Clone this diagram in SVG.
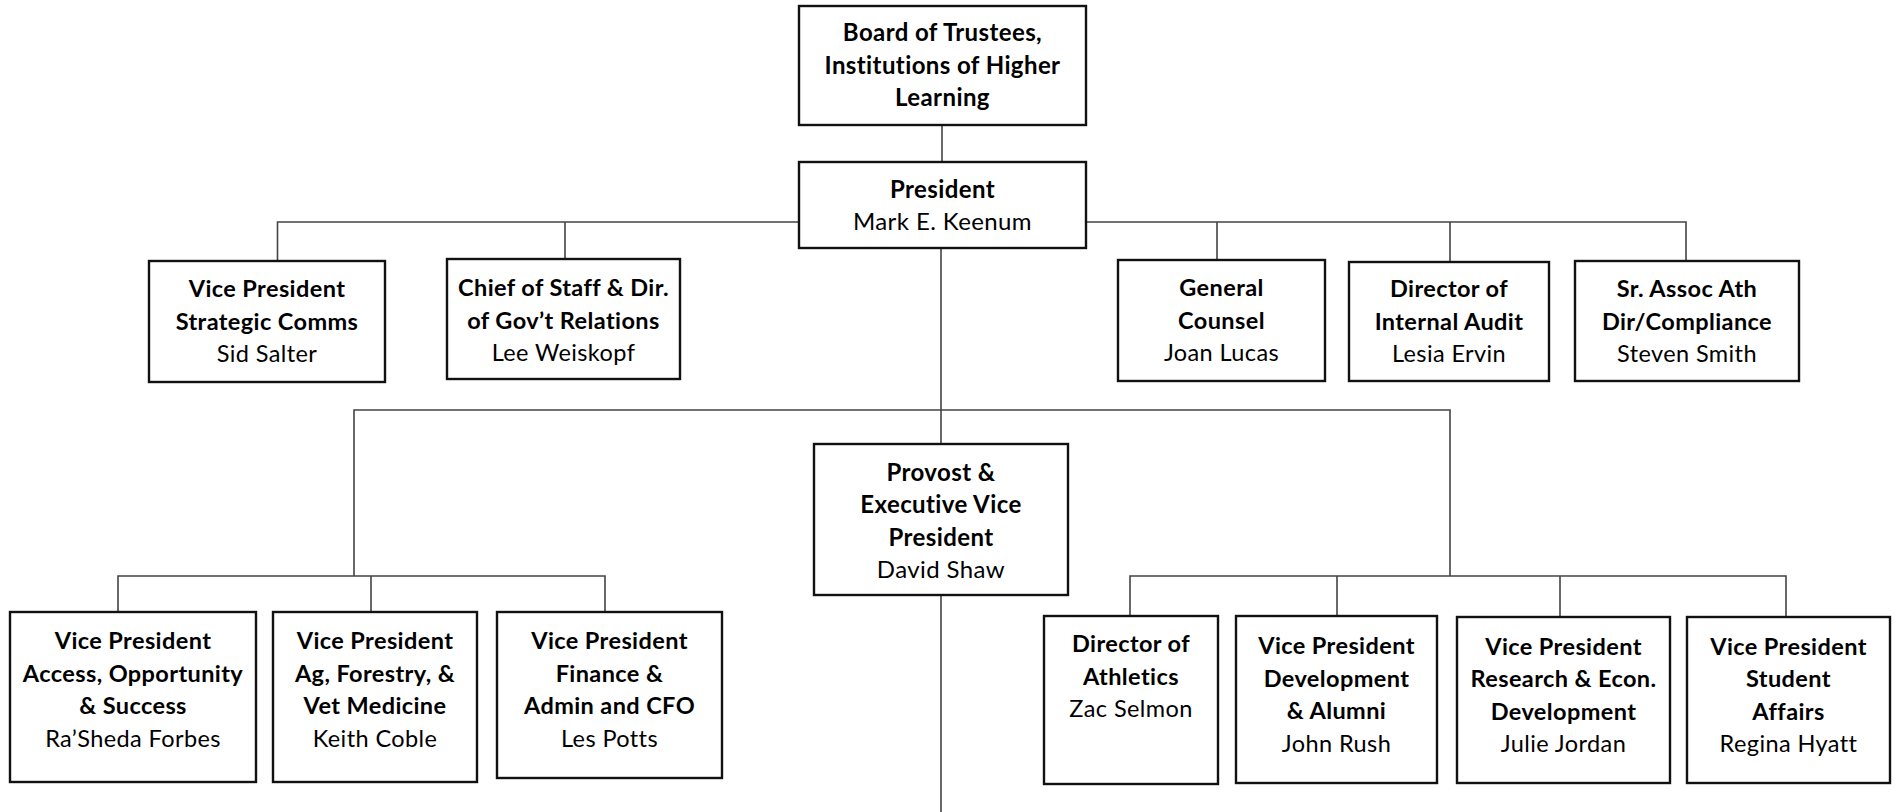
<svg xmlns="http://www.w3.org/2000/svg" width="1896" height="812" viewBox="0 0 1896 812">
<style>
.box{fill:#fff;stroke:#111;stroke-width:2.4}
.conn{fill:none;stroke:#444;stroke-width:1.6}
text{font-family:Lato,"Liberation Sans",sans-serif;font-size:23.5px;letter-spacing:0.4px;fill:#000;text-anchor:middle}
.b{font-weight:bold}
.big{font-size:24px}
</style>
<rect width="1896" height="812" fill="#fff"/>
<g id="connectors">
<path class="conn" d="M942 125V162"/>
<path class="conn" d="M799 222H277.5V261M565 222V259"/>
<path class="conn" d="M1086 222H1686V261M1217 222V260M1450 222V262"/>
<path class="conn" d="M941 248V444"/>
<path class="conn" d="M354 576V410H1450V576"/>
<path class="conn" d="M118 612V576H605V612M371 576V612"/>
<path class="conn" d="M1130 616V576H1786V617M1337 576V616M1560 576V617"/>
<path class="conn" d="M941 595V812"/>
</g>
<g id="board"><rect class="box" x="799" y="6" width="287" height="119"/>
<text class="b big" x="942.5" y="41">Board of Trustees,</text>
<text class="b big" x="942.5" y="73.5">Institutions of Higher</text>
<text class="b big" x="942.5" y="106">Learning</text></g>
<g id="president"><rect class="box" x="799" y="162" width="287" height="86"/>
<text class="b big" x="942.5" y="198">President</text>
<text class="big" x="942.5" y="230">Mark E. Keenum</text></g>
<g id="vp-comms"><rect class="box" x="149" y="261" width="236" height="121"/>
<text class="b" x="267" y="297">Vice President</text>
<text class="b" x="267" y="329.5">Strategic Comms</text>
<text x="267" y="362">Sid Salter</text></g>
<g id="chief-of-staff"><rect class="box" x="447" y="259" width="233" height="120"/>
<text class="b" x="563.5" y="296">Chief of Staff &amp; Dir.</text>
<text class="b" x="563.5" y="328.5">of Gov’t Relations</text>
<text x="563.5" y="361">Lee Weiskopf</text></g>
<g id="general-counsel"><rect class="box" x="1118" y="260" width="207" height="121"/>
<text class="b" x="1221.5" y="296">General</text>
<text class="b" x="1221.5" y="328.5">Counsel</text>
<text x="1221.5" y="361">Joan Lucas</text></g>
<g id="internal-audit"><rect class="box" x="1349" y="262" width="200" height="119"/>
<text class="b" x="1449" y="297">Director of</text>
<text class="b" x="1449" y="329.5">Internal Audit</text>
<text x="1449" y="362">Lesia Ervin</text></g>
<g id="compliance"><rect class="box" x="1575" y="261" width="224" height="120"/>
<text class="b" x="1687" y="297">Sr. Assoc Ath</text>
<text class="b" x="1687" y="329.5">Dir/Compliance</text>
<text x="1687" y="362">Steven Smith</text></g>
<g id="provost"><rect class="box" x="814" y="444" width="254" height="151"/>
<text class="b big" x="941" y="480.5">Provost &amp;</text>
<text class="b big" x="941" y="513">Executive Vice</text>
<text class="b big" x="941" y="545.5">President</text>
<text class="big" x="941" y="578">David Shaw</text></g>
<g id="vp-access"><rect class="box" x="10" y="612" width="246" height="170"/>
<text class="b" x="133" y="649">Vice President</text>
<text class="b" x="133" y="681.5">Access, Opportunity</text>
<text class="b" x="133" y="714">&amp; Success</text>
<text x="133" y="746.5">Ra’Sheda Forbes</text></g>
<g id="vp-ag"><rect class="box" x="273" y="612" width="204" height="170"/>
<text class="b" x="375" y="649">Vice President</text>
<text class="b" x="375" y="681.5">Ag, Forestry, &amp;</text>
<text class="b" x="375" y="714">Vet Medicine</text>
<text x="375" y="746.5">Keith Coble</text></g>
<g id="vp-finance"><rect class="box" x="497" y="612" width="225" height="166"/>
<text class="b" x="609.5" y="649">Vice President</text>
<text class="b" x="609.5" y="681.5">Finance &amp;</text>
<text class="b" x="609.5" y="714">Admin and CFO</text>
<text x="609.5" y="746.5">Les Potts</text></g>
<g id="athletics"><rect class="box" x="1044" y="616" width="174" height="168"/>
<text class="b" x="1131" y="652">Director of</text>
<text class="b" x="1131" y="684.5">Athletics</text>
<text x="1131" y="717">Zac Selmon</text></g>
<g id="vp-development"><rect class="box" x="1236" y="616" width="201" height="167"/>
<text class="b" x="1336.5" y="654">Vice President</text>
<text class="b" x="1336.5" y="686.5">Development</text>
<text class="b" x="1336.5" y="719">&amp; Alumni</text>
<text x="1336.5" y="751.5">John Rush</text></g>
<g id="vp-research"><rect class="box" x="1457" y="617" width="213" height="166"/>
<text class="b" x="1563.5" y="654.5">Vice President</text>
<text class="b" x="1563.5" y="687">Research &amp; Econ.</text>
<text class="b" x="1563.5" y="719.5">Development</text>
<text x="1563.5" y="752">Julie Jordan</text></g>
<g id="vp-student"><rect class="box" x="1687" y="617" width="203" height="166"/>
<text class="b" x="1788.5" y="654.5">Vice President</text>
<text class="b" x="1788.5" y="687">Student</text>
<text class="b" x="1788.5" y="719.5">Affairs</text>
<text x="1788.5" y="752">Regina Hyatt</text></g>
</svg>
